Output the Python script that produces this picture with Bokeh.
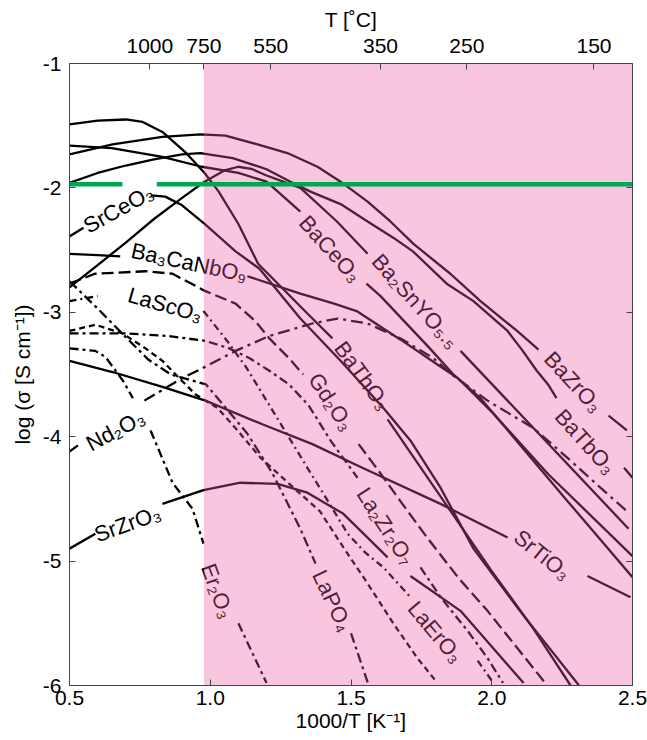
import math
from bokeh.plotting import figure
from bokeh.models import LinearAxis, FixedTicker, CustomJSTickFormatter, NumeralTickFormatter, ColumnDataSource
from bokeh.core.properties import value
from bokeh.embed import file_html
from bokeh.resources import INLINE

nan = float("nan")

# ---------------- data (log sigma vs 1000/T) ----------------
bazro3_x = [0.5, 0.653, 0.83, 0.965, 1.054, 1.168, 1.274, 1.381, 1.463, 1.559, 1.64, 1.722, 1.853, 1.96, 2.09, 2.166, nan, 2.415, 2.48]
bazro3_y = [-1.73, -1.65, -1.59, -1.57, -1.58, -1.65, -1.72, -1.83, -1.95, -2.11, -2.27, -2.45, -2.69, -2.91, -3.15, -3.30, nan, -3.83, -3.95]

batbo3_x = [0.5, 0.6, 0.7, 0.8, 0.9, 0.965, 1.08, 1.20, 1.285, 1.356, 1.463, 1.559, 1.65, 1.72, 1.84, 1.935, 2.056, 2.11, 2.16, 2.20, 2.23, nan, 2.47, 2.50]
batbo3_y = [-1.96, -1.88, -1.82, -1.77, -1.73, -1.72, -1.76, -1.85, -1.95, -2.03, -2.13, -2.27, -2.40, -2.51, -2.77, -2.91, -3.15, -3.31, -3.47, -3.58, -3.69, nan, -4.25, -4.33]

baceo3_x = [0.5, 0.65, 0.83, 0.97, 1.1, 1.2, 1.32, nan, 1.555, 1.605, 1.78, 1.864, 1.96, 2.27, 2.5]
baceo3_y = [-1.66, -1.68, -1.75, -1.83, -1.88, -1.95, -2.19, nan, -2.77, -2.87, -3.29, -3.50, -3.69, -4.52, -5.13]

ba2snyo_x = [0.5, 0.6, 0.7, 0.8, 0.9, 0.98, 1.05, 1.1, 1.15, 1.2, 1.32, 1.45, 1.559, nan, 1.889, 2.148, 2.486]
ba2snyo_y = [-2.80, -2.62, -2.44, -2.25, -2.08, -1.95, -1.86, -1.83, -1.85, -1.9, -2.0, -2.27, -2.53, nan, -3.31, -3.93, -4.74]

bathao3_x = [0.5, 0.6, 0.7, 0.76, 0.83, 0.91, 0.98, 1.03, 1.10, 1.17, 1.345, 1.434, nan, 1.63, 1.83, 2.0, 2.15, 2.28]
bathao3_y = [-1.49, -1.46, -1.45, -1.47, -1.55, -1.71, -1.88, -2.03, -2.29, -2.61, -3.01, -3.21, nan, -3.86, -4.52, -5.08, -5.55, -6.0]

srceo3_x = [0.5, 0.55, nan, 0.79, 0.84, 0.9, 0.98, 1.09, 1.175, 1.32, 1.463, 1.615, 1.711, 1.818, 1.935, 2.1, 2.31]
srceo3_y = [-2.39, -2.32, nan, -2.06, -2.07, -2.14, -2.29, -2.51, -2.65, -3.05, -3.39, -3.77, -4.03, -4.41, -4.90, -5.4, -6.0]

ba3canbo9_x = [0.5, 0.6, 0.68, nan, 1.132, 1.32, 1.44, 1.52, 1.676, 1.82, 1.88, 2.0, 2.2, 2.5]
ba3canbo9_y = [-2.53, -2.54, -2.55, nan, -2.71, -2.85, -2.93, -2.99, -3.22, -3.44, -3.53, -3.8, -4.3, -4.96]

srtio3_x = [0.5, 0.653, 0.83, 0.983, 1.185, 1.363, 1.54, 1.818, 2.056, nan, 2.34, 2.493]
srtio3_y = [-3.39, -3.48, -3.60, -3.71, -3.90, -4.06, -4.25, -4.54, -4.81, nan, -5.12, -5.29]

srzro3_x = [0.5, 0.592, nan, 0.83, 0.976, 1.107, 1.239, 1.345, 1.473, 1.63, nan, 1.711, 1.889, 2.113]
srzro3_y = [-4.90, -4.78, nan, -4.54, -4.43, -4.37, -4.38, -4.45, -4.62, -4.97, nan, -5.12, -5.40, -5.98]

nd2o3_x = [0.5, 0.53, nan, 0.766, 0.90, 0.972, 1.09, 1.21, 1.363, 1.452, 1.559, 1.676, 1.793, 1.864, 1.985, 2.148, 2.269, 2.386, 2.486]
nd2o3_y = [-4.12, -4.07, nan, -3.71, -3.53, -3.45, -3.31, -3.19, -3.09, -3.05, -3.09, -3.21, -3.37, -3.51, -3.71, -3.93, -4.17, -4.41, -4.61]

er2o3_x = [0.5, 0.592, 0.628, 0.69, 0.725, nan, 0.788, 0.866, 0.937, 0.976, nan, 1.10, 1.2]
er2o3_y = [-3.29, -3.31, -3.36, -3.55, -3.69, nan, -3.95, -4.37, -4.58, -4.86, nan, -5.50, -5.98]

lapo4_x = [0.5, 0.6, 0.7, 0.78, 0.86, 0.985, 1.13, 1.22, 1.32, 1.374, nan, 1.50, 1.56]
lapo4_y = [-2.75, -2.97, -3.2, -3.38, -3.5, -3.58, -3.97, -4.29, -4.74, -5.02, nan, -5.58, -5.98]

lasco3_x = [0.5, 0.6, nan, 0.976, 1.06, 1.13, 1.20, 1.27, 1.345, 1.416, 1.488, 1.55, 1.615, 1.711, nan, 1.95, 2.006]
lasco3_y = [-2.91, -2.87, nan, -2.99, -3.23, -3.45, -3.71, -3.97, -4.25, -4.51, -4.78, -4.93, -5.05, -5.29, nan, -5.80, -5.98]

gd2o3_x = [0.5, 0.59, 0.77, 0.866, 0.983, 1.09, 1.16, 1.21, 1.28, 1.33, nan, 1.527, 1.6, 1.676, 1.77, 1.88, 1.985, 2.077, 2.19]
gd2o3_y = [-2.77, -2.69, -2.67, -2.69, -2.83, -2.93, -3.07, -3.21, -3.37, -3.5, nan, -4.06, -4.28, -4.52, -4.81, -5.13, -5.40, -5.66, -5.98]

dashed_a_x = [0.5, 0.592, 0.688, 0.77, 0.83, 0.89, 0.948, 0.983, 1.026, 1.097, 1.179, 1.296, 1.39, 1.473, 1.559, 1.65, 1.736, 1.80]
dashed_a_y = [-3.15, -3.10, -3.17, -3.29, -3.39, -3.53, -3.66, -3.71, -3.77, -3.95, -4.17, -4.41, -4.60, -4.89, -5.18, -5.50, -5.78, -5.96]

la2zr2o7_x = [0.5, 0.7, 0.85, 0.983, 1.068, 1.14, 1.21, 1.28, 1.35, 1.427, 1.523, nan, 1.747, 1.818, 1.914, 1.985, 2.04]
la2zr2o7_y = [-3.17, -3.17, -3.19, -3.23, -3.29, -3.37, -3.47, -3.58, -3.75, -4.03, -4.33, nan, -5.05, -5.29, -5.56, -5.78, -5.98]

# labels: text, x, y, angle(deg)
label_text = ["SrCeO₃", "Ba₃CaNbO₉", "LaScO₃", "Nd₂O₃", "SrZrO₃", "Er₂O₃", "BaCeO₃", "Ba₂SnYO₅.₅",
              "BaZrO₃", "BaTbO₃", "BaThO₃", "Gd₂O₃", "La₂Zr₂O₇", "SrTiO₃", "LaErO₃", "LaPO₄"]
label_x = [0.674, 0.925, 0.84, 0.663, 0.706, 1.026, 1.427, 1.729, 2.29, 2.333, 1.541, 1.43, 1.623, 2.18, 1.80, 1.434]
label_y = [-2.17, -2.60, -2.94, -3.95, -4.70, -5.24, -2.49, -2.91, -3.56, -4.04, -3.51, -3.72, -4.72, -4.95, -5.57, -5.32]
label_angle = [29, -12, -16, 28, 20, -70, -48, -48, -47, -48, -54, -57, -57, -39, -50, -65]

# top axis temperatures (deg C), pink region starts at 750 C, target conductivity line
top_T = [1000, 750, 550, 350, 250, 150]
pink_T_max = 750
target_x = [0.5, 0.688, nan, 0.81, 2.5]
target_y = [-1.97, -1.97, nan, -1.97, -1.97]

# ---------------- figure ----------------
FONT = "Liberation Sans"
TICK_FS = "21px"
LABEL_FS = "22px"
p = figure(width=647, height=740, x_range=(0.5, 2.5), y_range=(-6, -1),
           output_backend="svg", toolbar_location=None,
           min_border_left=69, min_border_right=15, min_border_top=62, min_border_bottom=55)
p.grid.visible = False
p.outline_line_color = "#444444"
p.background_fill_color = "white"
p.border_fill_color = "white"

p.title.text = "T [˚C]"
p.title.align = "center"
p.title.text_font = FONT
p.title.text_font_size = TICK_FS
p.title.text_font_style = "normal"
p.title.text_color = "black"
p.title.standoff = 10

xa = p.xaxis[0]
xa.ticker = FixedTicker(ticks=[0.5, 1.0, 1.5, 2.0, 2.5])
xa.formatter = NumeralTickFormatter(format="0.0")
ya = p.yaxis[0]
ya.ticker = FixedTicker(ticks=[-1, -2, -3, -4, -5, -6])
ya.formatter = CustomJSTickFormatter(code="return tick.toFixed(0);")
xa.axis_label = "1000/T [K⁻¹]"
ya.axis_label = "log (σ [S cm⁻¹])"

top = LinearAxis(ticker=FixedTicker(ticks=[1000.0 / (t + 273.15) for t in top_T]),
                 formatter=CustomJSTickFormatter(code="return String(Math.round(1000/tick - 273.15));"))
p.add_layout(top, "above")
right = LinearAxis(ticker=FixedTicker(ticks=[-1, -2, -3, -4, -5, -6]), major_label_text_alpha=0,
                   major_label_text_font_size="1px")
p.add_layout(right, "right")

for ax in [xa, ya, top, right]:
    ax.major_tick_in = 6
    ax.major_tick_out = 0
    ax.minor_tick_line_color = None
    ax.axis_line_color = "#444444"
    ax.major_tick_line_color = "#444444"
    ax.major_label_text_font = FONT
    ax.major_label_text_color = "black"
    ax.axis_label_text_font = FONT
    ax.axis_label_text_font_size = TICK_FS
    ax.axis_label_text_font_style = "normal"
    ax.axis_label_text_color = "black"
    ax.major_label_standoff = 5
    ax.axis_label_standoff = 1
for ax in [xa, ya, top]:
    ax.major_label_text_font_size = TICK_FS
ya.major_label_standoff = 8
ya.axis_label_standoff = 6
top.major_label_standoff = 11

LW = 2.3
solid = [(bazro3_x, bazro3_y), (batbo3_x, batbo3_y), (baceo3_x, baceo3_y), (ba2snyo_x, ba2snyo_y),
         (bathao3_x, bathao3_y), (srceo3_x, srceo3_y), (ba3canbo9_x, ba3canbo9_y), (srtio3_x, srtio3_y),
         (srzro3_x, srzro3_y)]
for xs, ys in solid:
    p.line(xs, ys, line_color="black", line_width=LW)

dashed = [(nd2o3_x, nd2o3_y, "12 5 3 5"), (er2o3_x, er2o3_y, "9 4 3 4"), (lapo4_x, lapo4_y, "10 4 3 4"),
          (lasco3_x, lasco3_y, "7 4 2 4"), (gd2o3_x, gd2o3_y, "12 5"), (dashed_a_x, dashed_a_y, "6 4"),
          (la2zr2o7_x, la2zr2o7_y, "9 4 3 4")]
for xs, ys, dash in dashed:
    p.line(xs, ys, line_color="black", line_width=LW, line_dash=dash)

src = ColumnDataSource(dict(x=label_x, y=label_y, text=label_text, angle=label_angle))
p.text(x="x", y="y", text="text", angle="angle", angle_units="deg", source=src,
       text_font=value(FONT), text_font_size=LABEL_FS, text_align="center",
       text_baseline="middle", text_color="black")

# pink overlay (tints everything under it)
xp = 1000.0 / (pink_T_max + 273.15)
p.quad(left=[xp], right=[2.5], bottom=[-6], top=[-1], fill_color="#ED57A4", fill_alpha=0.34, line_color=None)

p.line(target_x, target_y, line_color="#00A651", line_width=4.5)

open("out.html", "w").write(file_html(p, INLINE))
